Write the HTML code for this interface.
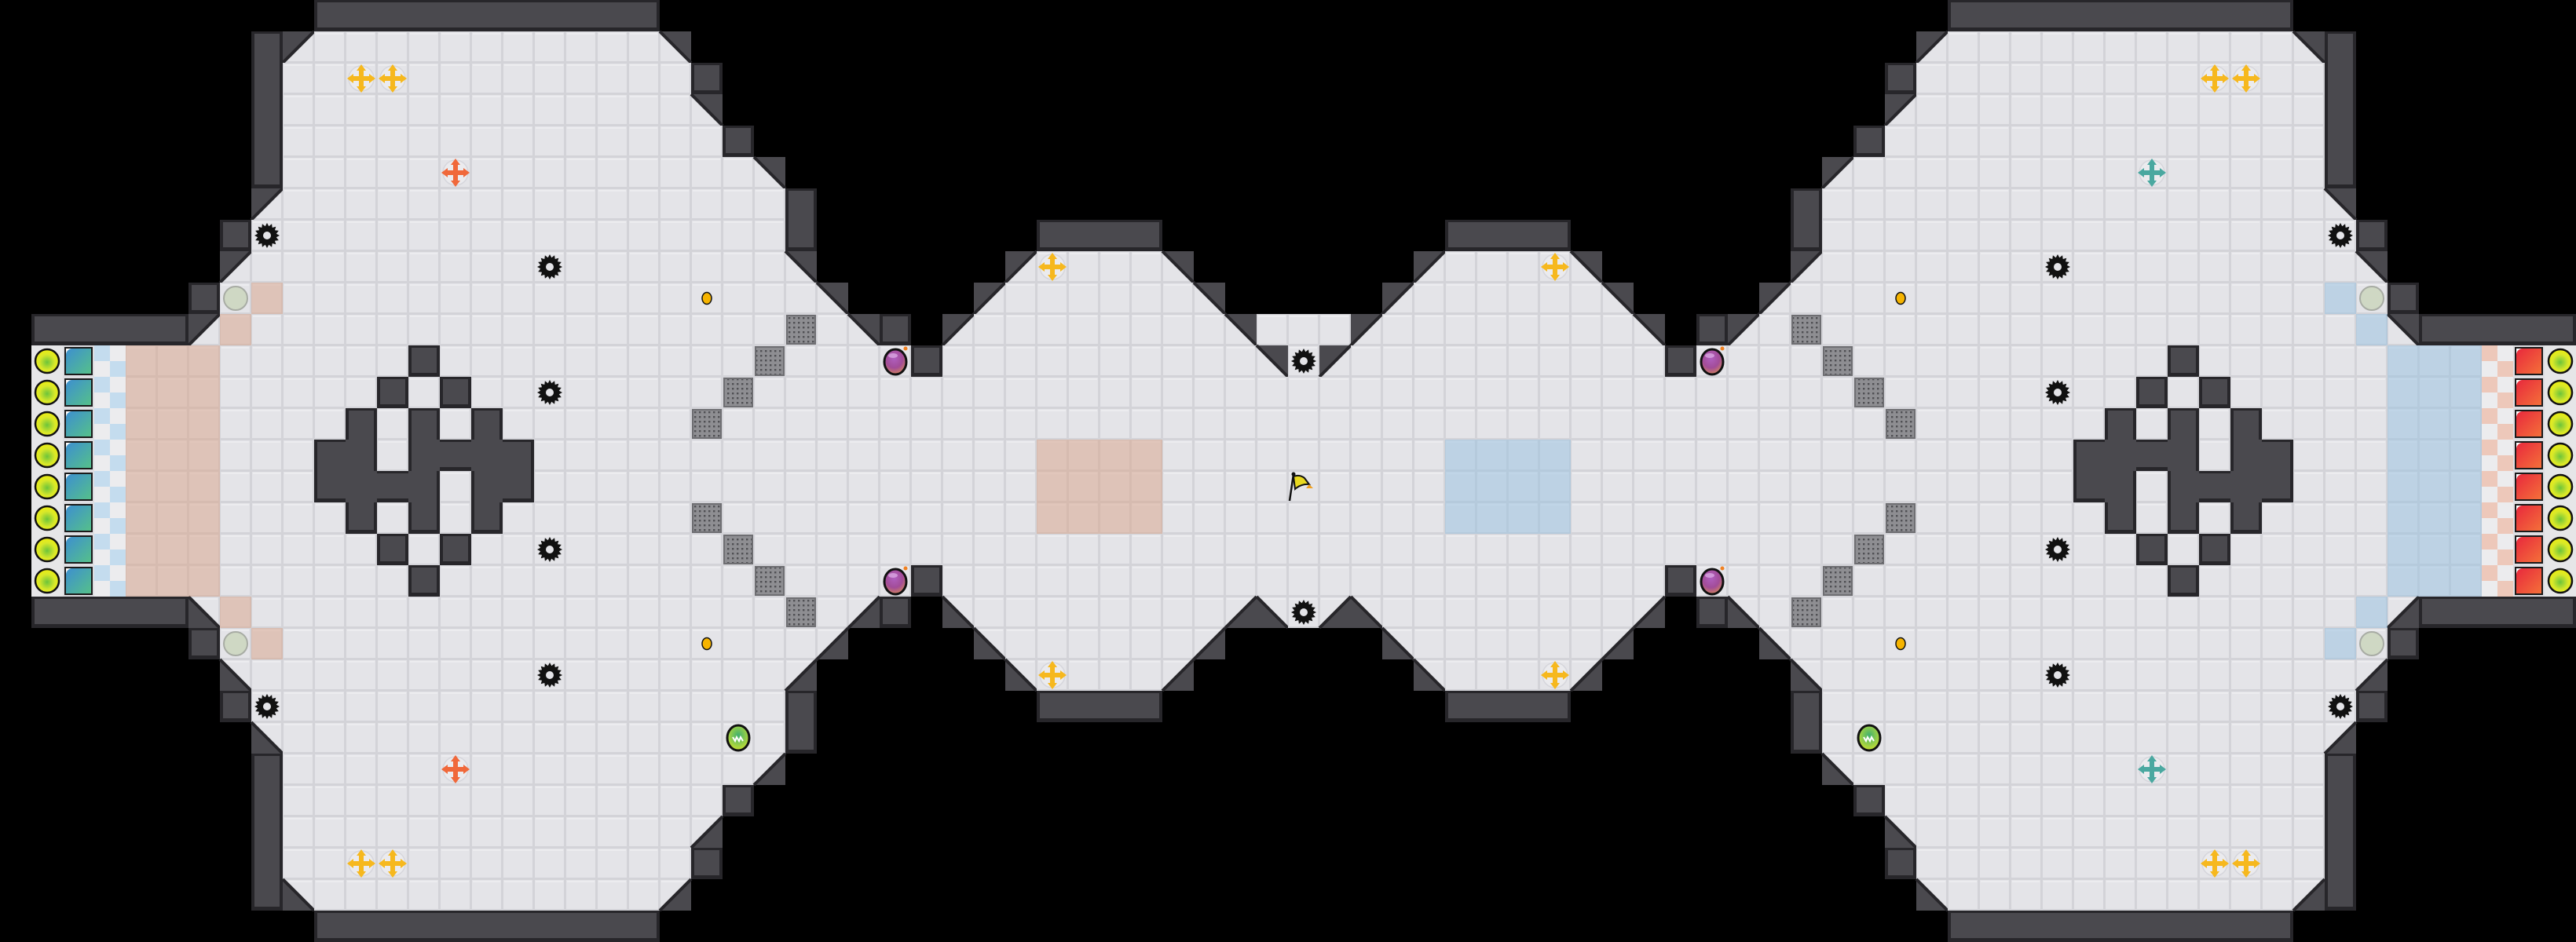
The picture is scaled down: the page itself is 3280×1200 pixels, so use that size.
<!DOCTYPE html>
<html><head><meta charset="utf-8"><style>
html,body{margin:0;padding:0;background:#000;overflow:hidden}
svg{display:block}
</style></head><body>
<svg id="m" xmlns="http://www.w3.org/2000/svg" width="3280" height="1200" viewBox="0 0 3280 1200">
<defs>
<radialGradient id="yg" cx="50%" cy="55%" r="55%"><stop offset="0" stop-color="#6cc43a"/><stop offset="0.6" stop-color="#d8e82a"/><stop offset="1" stop-color="#eeee10"/></radialGradient>
<linearGradient id="tg" x1="0" y1="0" x2="1" y2="1"><stop offset="0" stop-color="#3d8fd0"/><stop offset="1" stop-color="#55c08a"/></linearGradient>
<linearGradient id="rg" x1="0" y1="0" x2="1" y2="1"><stop offset="0" stop-color="#e8283c"/><stop offset="1" stop-color="#f4703a"/></linearGradient>
<radialGradient id="bg" cx="45%" cy="35%" r="65%"><stop offset="0" stop-color="#b060c0"/><stop offset="0.6" stop-color="#a24c98"/><stop offset="1" stop-color="#d08060"/></radialGradient>
<radialGradient id="gg" cx="50%" cy="40%" r="60%"><stop offset="0" stop-color="#40b070"/><stop offset="1" stop-color="#c8e030"/></radialGradient>
<pattern id="dots" width="6" height="6" patternUnits="userSpaceOnUse"><rect width="6" height="6" fill="#8e8e92"/><rect x="2" y="2" width="2.4" height="2.4" fill="#505054"/></pattern>
</defs>
<rect width="3280" height="1200" fill="#000"/>
<g id="g"></g>
</svg>
<script>
(function(){
var R=30,C=83,g=[],r,c;
for(r=0;r<R;r++){g.push([]);for(c=0;c<C;c++)g[r].push('.');}
function set(r,c,t){g[r][c]=t;}
function fill(r,a,b,t){for(var c=a;c<=b;c++)g[r][c]=t;}
fill(0,10,20,'W');
set(1,8,'W');set(1,9,'a');fill(1,10,20,'F');set(1,21,'b');
set(2,8,'W');fill(2,9,21,'F');set(2,22,'W');
set(3,8,'W');fill(3,9,21,'F');set(3,22,'b');
set(4,8,'W');fill(4,9,22,'F');set(4,23,'W');
set(5,8,'W');fill(5,9,23,'F');set(5,24,'b');
set(6,8,'a');fill(6,9,24,'F');set(6,25,'W');
set(7,7,'W');fill(7,8,24,'F');set(7,25,'W');fill(7,33,36,'W');
set(8,7,'a');fill(8,8,24,'F');set(8,25,'b');set(8,32,'a');fill(8,33,36,'F');set(8,37,'b');
set(9,6,'W');fill(9,7,25,'F');set(9,26,'b');set(9,31,'a');fill(9,32,37,'F');set(9,38,'b');
fill(10,1,5,'W');set(10,6,'a');fill(10,7,26,'F');set(10,27,'b');set(10,28,'W');set(10,30,'a');fill(10,31,38,'F');set(10,39,'b');fill(10,40,41,'F');
fill(11,1,28,'F');set(11,29,'W');fill(11,30,39,'F');set(11,40,'b');set(11,41,'F');
for(r=12;r<=14;r++)fill(r,1,41,'F');
// shape
var sh=[[11,13],[12,12],[12,14],[13,11],[13,13],[13,15],[14,10],[14,11],[14,13],[14,14],[14,15],[14,16],
[15,10],[15,11],[15,12],[15,13],[15,15],[15,16],[16,11],[16,13],[16,15],[17,12],[17,14],[18,13]];
var vf={a:'c',b:'d',c:'a',d:'b'};
for(r=0;r<15;r++)for(c=0;c<=41;c++){var t=g[r][c];g[29-r][c]=vf[t]||t;}
for(r=15;r<R;r++)for(c=1;c<=41;c++)if(g[r][c]=='W'&&r>=11&&r<=18&&c>=9&&c<=17)g[r][c]='F';
for(r=11;r<=18;r++)for(c=9;c<=17;c++)g[r][c]='F';
sh.forEach(function(p){g[p[0]][p[1]]='W';});
set(18,40,'F');set(18,41,'F');set(19,39,'d');set(19,40,'c');set(19,41,'F');
var hf={a:'b',b:'a',c:'d',d:'c'};
for(r=0;r<R;r++)for(c=42;c<C;c++){var t2=g[r][82-c];g[r][c]=hf[t2]||t2;}
// items
var it=[];
function add(r,c,t){it.push([r,c,t]);}
var top=[[2,11,'by'],[2,12,'by'],[5,14,'br'],[7,8,'sp'],[8,17,'sp'],[12,17,'sp'],[9,7,'gc'],[9,8,'rt'],[10,7,'rt'],[9,22,'dot'],
[10,25,'gate'],[11,24,'gate'],[12,23,'gate'],[13,22,'gate'],[11,28,'bomb'],[8,33,'by']];
for(r=11;r<=14;r++){top.push([r,1,'yc']);top.push([r,2,'tsq']);top.push([r,3,'chb']);top.push([r,4,'rt']);top.push([r,5,'rt']);top.push([r,6,'rt']);}
var hm={rt:'ut',tsq:'rsq',chb:'chr',br:'bt'};
top.forEach(function(p){
 add(p[0],p[1],p[2]);add(29-p[0],p[1],p[2]);
 var m=hm[p[2]]||p[2];add(p[0],82-p[1],m);add(29-p[0],82-p[1],m);
});
for(r=14;r<=16;r++)for(c=33;c<=36;c++){add(r,c,'rt');add(r,82-c,'ut');}
add(23,23,'green');add(23,59,'green');add(11,41,'sp');add(19,41,'sp');add(15,41,'flag');
// render
var s=[];var T=40;
function isW(r,c){if(r<0||r>=R||c<0||c>=C)return false;return g[r][c]=='W';}
function floor(x,y){s.push('<rect x="'+x+'" y="'+y+'" width="40" height="40" fill="#d3d3d8"/><rect x="'+(x+1)+'" y="'+(y+1)+'" width="37" height="37" fill="#e4e4e8"/><rect x="'+(x+2)+'" y="'+(y+2)+'" width="35" height="2" fill="#ececef"/>');}
var WC='#4a494e',WD='#27262a';
for(r=0;r<R;r++)for(c=0;c<C;c++){
 var t=g[r][c],x=c*T,y=r*T;
 if(t=='.')continue;
 if(t=='F'){floor(x,y);continue;}
 if(t=='W'){
  s.push('<rect x="'+x+'" y="'+y+'" width="40" height="40" fill="'+WC+'"/>');
  if(!isW(r-1,c))s.push('<rect x="'+x+'" y="'+y+'" width="40" height="3" fill="'+WD+'"/>');
  if(!isW(r+1,c))s.push('<rect x="'+x+'" y="'+(y+35)+'" width="40" height="5" fill="'+WD+'"/>');
  if(!isW(r,c-1))s.push('<rect x="'+x+'" y="'+y+'" width="4" height="40" fill="'+WD+'"/>');
  if(!isW(r,c+1))s.push('<rect x="'+(x+36)+'" y="'+y+'" width="4" height="40" fill="'+WD+'"/>');
  continue;}
 floor(x,y);
 var P={a:[[0,0],[40,0],[0,40]],b:[[0,0],[40,0],[40,40]],c:[[0,0],[0,40],[40,40]],d:[[40,0],[40,40],[0,40]]}[t];
 var pts=P.map(function(q){return (x+q[0])+','+(y+q[1]);}).join(' ');
 s.push('<polygon points="'+pts+'" fill="'+WC+'"/>');
 var H={a:[[40,0],[0,40]],b:[[0,0],[40,40]],c:[[0,0],[40,40]],d:[[40,0],[0,40]]}[t];
 s.push('<line x1="'+(x+H[0][0])+'" y1="'+(y+H[0][1])+'" x2="'+(x+H[1][0])+'" y2="'+(y+H[1][1])+'" stroke="'+WD+'" stroke-width="4"/>');
}
function star(cx,cy){var p=[];for(var i=0;i<32;i++){var a=i*Math.PI/16,rr=i%2?12:16;p.push((cx+rr*Math.cos(a)).toFixed(1)+','+(cy+rr*Math.sin(a)).toFixed(1));}
 return '<polygon points="'+p.join(' ')+'" fill="#111"/><circle cx="'+cx+'" cy="'+cy+'" r="5" fill="#e4e4e8"/>';}
function boost(cx,cy,col){
 return '<circle cx="'+cx+'" cy="'+cy+'" r="16" fill="#ebebee" stroke="#d6d6dc" stroke-width="1.5"/>'+
 '<rect x="'+(cx-3)+'" y="'+(cy-12)+'" width="6" height="24" fill="'+col+'"/><rect x="'+(cx-12)+'" y="'+(cy-3)+'" width="24" height="6" fill="'+col+'"/>'+
 '<polygon points="'+cx+','+(cy-18)+' '+(cx-6)+','+(cy-10)+' '+(cx+6)+','+(cy-10)+'" fill="'+col+'"/>'+
 '<polygon points="'+cx+','+(cy+18)+' '+(cx-6)+','+(cy+10)+' '+(cx+6)+','+(cy+10)+'" fill="'+col+'"/>'+
 '<polygon points="'+(cx-18)+','+cy+' '+(cx-10)+','+(cy-6)+' '+(cx-10)+','+(cy+6)+'" fill="'+col+'"/>'+
 '<polygon points="'+(cx+18)+','+cy+' '+(cx+10)+','+(cy-6)+' '+(cx+10)+','+(cy+6)+'" fill="'+col+'"/>';}
it.forEach(function(p){
 var x=p[1]*T,y=p[0]*T,cx=x+20,cy=y+20,t=p[2];
 switch(t){
 case 'rt':s.push('<rect x="'+x+'" y="'+y+'" width="40" height="40" fill="#d8a890" opacity="0.55"/>');break;
 case 'ut':s.push('<rect x="'+x+'" y="'+y+'" width="40" height="40" fill="#9cc2e0" opacity="0.55"/>');break;
 case 'chb':case 'chr':var cc=t=='chb'?'#c4dcee':'#edc8ba';
  s.push('<rect x="'+x+'" y="'+y+'" width="40" height="40" fill="#ececee"/><rect x="'+x+'" y="'+y+'" width="20" height="20" fill="'+cc+'"/><rect x="'+(x+20)+'" y="'+(y+20)+'" width="20" height="20" fill="'+cc+'"/>');break;
 case 'tsq':case 'rsq':
  s.push('<rect x="'+x+'" y="'+y+'" width="40" height="40" fill="#dedee2"/><rect x="'+(x+2)+'" y="'+(y+2)+'" width="36" height="36" fill="#1a1a1a"/><rect x="'+(x+4)+'" y="'+(y+4)+'" width="32" height="32" fill="url(#'+(t=='tsq'?'tg':'rg')+')"/><path d="M'+(x+4)+','+(y+4)+' h8 a8,8 0 0 0 -8,8 z" fill="#fff"/>');break;
 case 'yc':s.push('<rect x="'+x+'" y="'+y+'" width="40" height="40" fill="#e6e6e8"/><circle cx="'+cx+'" cy="'+cy+'" r="15" fill="url(#yg)" stroke="#111" stroke-width="2.5"/>');break;
 case 'sp':s.push(star(cx,cy));break;
 case 'by':s.push(boost(cx,cy,'#f6b81e'));break;
 case 'br':s.push(boost(cx,cy,'#f0683a'));break;
 case 'bt':s.push(boost(cx,cy,'#4aa8a0'));break;
 case 'gc':s.push('<circle cx="'+cx+'" cy="'+cy+'" r="15" fill="#cfd8c4" stroke="#a8aca4" stroke-width="2"/>');break;
 case 'dot':s.push('<ellipse cx="'+cx+'" cy="'+cy+'" rx="6" ry="7.5" fill="#f6b400" stroke="#111" stroke-width="1.5"/>');break;
 case 'gate':s.push('<rect x="'+(x+1)+'" y="'+(y+1)+'" width="38" height="38" fill="#6e6e72"/><rect x="'+(x+3)+'" y="'+(y+3)+'" width="34" height="34" fill="url(#dots)"/>');break;
 case 'bomb':s.push('<ellipse cx="'+cx+'" cy="'+(cy+1)+'" rx="14" ry="16" fill="url(#bg)" stroke="#111" stroke-width="3"/><ellipse cx="'+(cx-3)+'" cy="'+(cy-7)+'" rx="6" ry="3" fill="#e0b0e8" opacity="0.7"/><circle cx="'+(cx+13)+'" cy="'+(cy-16)+'" r="2.5" fill="#f08020"/>');break;
 case 'green':s.push('<ellipse cx="'+cx+'" cy="'+cy+'" rx="14" ry="16" fill="url(#gg)" stroke="#111" stroke-width="3"/><path d="M'+(cx-7)+','+(cy-1)+' l3,5 l2,-5 l3,5 l2,-5 l3,5" stroke="#fff" stroke-width="2" fill="none"/>');break;
 case 'flag':s.push('<line x1="'+(x+2)+'" y1="'+(y+38)+'" x2="'+(x+7)+'" y2="'+(y+4)+'" stroke="#111" stroke-width="2.5"/><circle cx="'+(x+7)+'" cy="'+(y+4)+'" r="2.5" fill="#111"/><path d="M'+(x+7)+','+(y+7)+' q8,-3 14,2 l6,8 q-10,-1 -18,6 z" fill="#e8d820" stroke="#111" stroke-width="2"/><path d="M'+(x+27)+','+(y+17)+' l5,5 l-9,0 z" fill="#f0a020"/>');break;
 }
});
document.getElementById('g').innerHTML=s.join('');
})();
</script>
</body></html>
